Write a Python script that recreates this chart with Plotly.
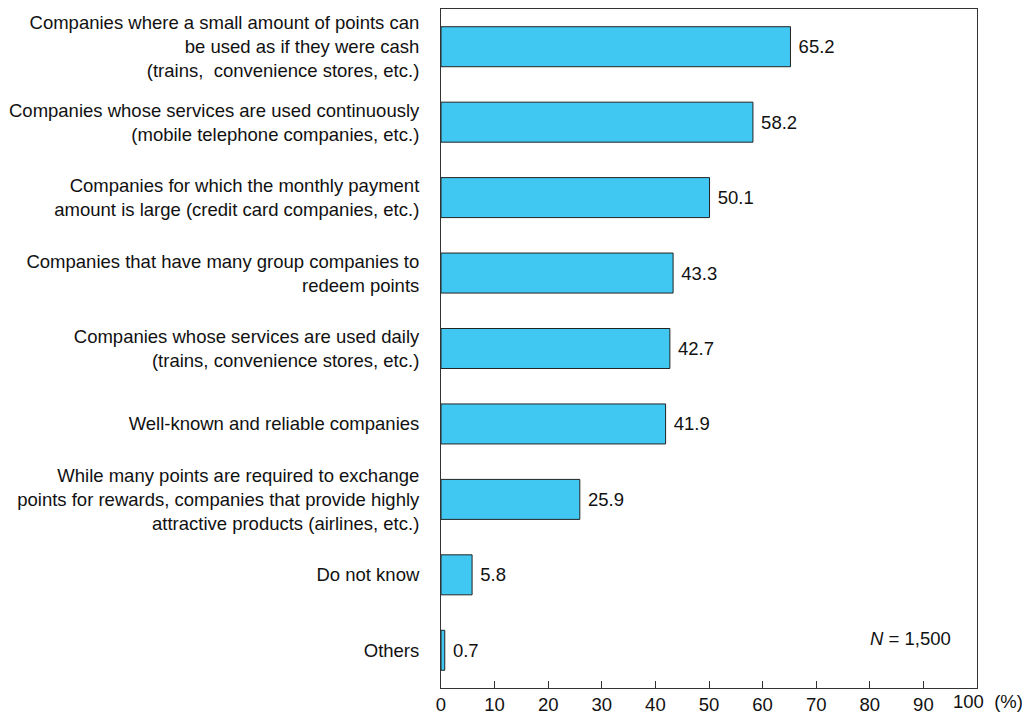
import plotly.graph_objects as go

categories = [
    "Companies where a small amount of points can<br>be used as if they were cash<br>(trains,  convenience stores, etc.)",
    "Companies whose services are used continuously<br>(mobile telephone companies, etc.)",
    "Companies for which the monthly payment<br>amount is large (credit card companies, etc.)",
    "Companies that have many group companies to<br>redeem points",
    "Companies whose services are used daily<br>(trains, convenience stores, etc.)",
    "Well-known and reliable companies",
    "While many points are required to exchange<br>points for rewards, companies that provide highly<br>attractive products (airlines, etc.)",
    "Do not know",
    "Others",
]
values = [65.2, 58.2, 50.1, 43.3, 42.7, 41.9, 25.9, 5.8, 0.7]
tick_vals = [0, 10, 20, 30, 40, 50, 60, 70, 80, 90, 100]
unit_label = "(%)"
sample_note = "<i>N</i> = 1,500"

FONT = "Liberation Sans, Arial, Helvetica, sans-serif"
FS = 18.5

fig = go.Figure(go.Bar(
    x=values,
    y=categories,
    orientation="h",
    marker=dict(color="#41C8F2", line=dict(color="#222222", width=1)),
    width=0.53,
    text=["\u00a0" + f"{v:.1f}" for v in values],
    textposition="outside",
    textfont=dict(size=FS, color="#111111", family=FONT),
    cliponaxis=False,
))

fig.update_layout(
    width=1022, height=715,
    margin=dict(l=441, r=45, t=9, b=27, autoexpand=False),
    plot_bgcolor="white", paper_bgcolor="white",
    font=dict(family=FONT, size=FS, color="#111111"),
    showlegend=False,
)
fig.update_xaxes(
    range=[0, 100], tickvals=tick_vals,
    ticktext=[str(t) for t in tick_vals[:-1]] + [""],
    ticks="inside", ticklen=7, tickcolor="#333333", tickwidth=1,
    showline=True, linecolor="#333333", linewidth=1, mirror=True,
    showgrid=False, zeroline=False, ticklabelstandoff=0,
    tickfont=dict(size=FS, family=FONT, color="#111111"),
)
fig.update_yaxes(
    autorange="reversed",
    showline=True, linecolor="#333333", linewidth=1, mirror=True,
    showgrid=False, ticks="", ticklabelstandoff=17,
    tickfont=dict(size=FS, family=FONT, color="#111111"),
)

# last tick label with unit, shifted left as in the original
fig.add_annotation(
    x=tick_vals[-1], y=0, xref="x", yref="paper", xanchor="left", yanchor="top",
    text=f"{tick_vals[-1]}\u00a0\u00a0{unit_label}", showarrow=False,
    yshift=-2, xshift=-25, borderpad=0,
    font=dict(size=FS, family=FONT, color="#111111"),
)
fig.add_annotation(
    x=95.5, y=0.0736, xref="x", yref="paper", xanchor="right", yanchor="middle",
    text=sample_note, showarrow=False,
    font=dict(size=FS, family=FONT, color="#111111"),
)

fig.write_html(
    "out.html",
    config={"displayModeBar": False},
    post_script="document.body.style.margin='0';document.body.style.overflow='hidden';",
)
